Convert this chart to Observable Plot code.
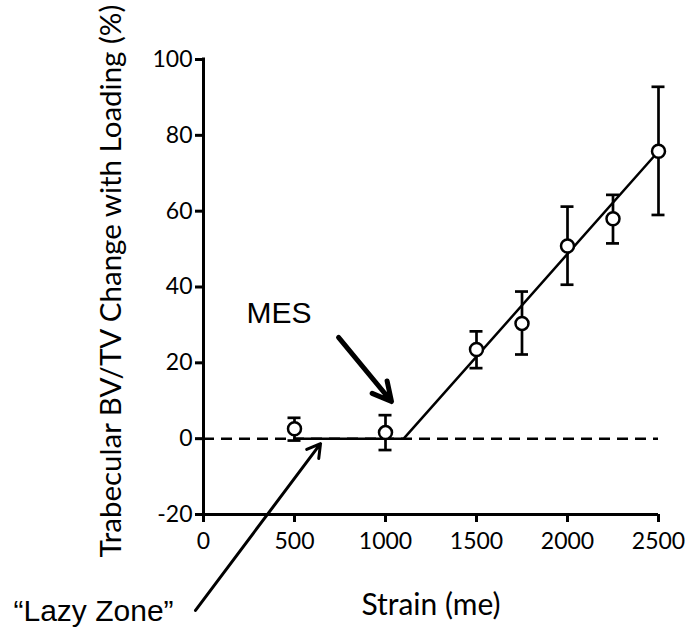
<!DOCTYPE html>
<html><head><meta charset="utf-8">
<script src="https://cdn.jsdelivr.net/npm/d3@7"></script>
<script src="https://cdn.jsdelivr.net/npm/@observablehq/plot@0.6"></script>
<style>body{margin:0;background:#fff}</style>
</head><body><div id="chart"></div>
<script>
// Data (strain in microstrain, % change in trabecular BV/TV)
const strain = [500, 1000, 1500, 1750, 2000, 2250, 2500];
const meanChange = [2.6, 1.6, 23.5, 30.4, 50.8, 58.0, 75.8];
const upperErr = [5.5, 6.2, 28.3, 38.8, 61.2, 64.3, 92.8];
const lowerErr = [-0.5, -3.0, 18.6, 22.2, 40.6, 51.5, 59.0];

// Bilinear fit: lazy zone then linear increase above MES
const fitStrain = [500, 1100, 2500];
const fitChange = [0, 0, 75.8];

const xTicks = [0, 500, 1000, 1500, 2000, 2500];
const yTicks = [-20, 0, 20, 40, 60, 80, 100];

// Annotations (in data units)
const mesArrow = [{x1: 742, y1: 26.7, x2: 1033, y2: 9.8}];
const lazyArrow = [{x1: -44, y1: -45.3, x2: 643, y2: -1.3}];
const mesLabel = [{x: 236, y: 30.6, text: "MES"}];
const lazyLabel = [{x: -1044, y: -48.2, text: "\u201CLazy Zone\u201D"}];

const yTitle = "Trabecular BV/TV Change with Loading (%)";
const xTitle = "Strain (me)";

const points = strain.map((x, i) => ({x, y: meanChange[i], hi: upperErr[i], lo: lowerErr[i]}));
const fit = fitStrain.map((x, i) => ({x, y: fitChange[i]}));

const chart = Plot.plot({
  width: 686,
  height: 628,
  marginLeft: 203,
  marginRight: 28,
  marginTop: 59,
  marginBottom: 114,
  style: {fontFamily: "Lato", color: "black", background: "white", overflow: "visible"},
  x: {domain: [0, 2500]},
  y: {domain: [-20, 100]},
  marks: [
    Plot.ruleY([0], {stroke: "black", strokeWidth: 2.5, strokeDasharray: "11,7"}),
    Plot.line(fit, {x: "x", y: "y", stroke: "black", strokeWidth: 2.5}),
    Plot.ruleX(points, {x: "x", y1: "lo", y2: "hi", stroke: "black", strokeWidth: 2.7}),
    Plot.ruleY(points, {y: "hi", x1: "x", x2: "x", insetLeft: -6.5, insetRight: -6.5, stroke: "black", strokeWidth: 2.7}),
    Plot.ruleY(points, {y: "lo", x1: "x", x2: "x", insetLeft: -6.5, insetRight: -6.5, stroke: "black", strokeWidth: 2.7}),
    Plot.dot(points, {x: "x", y: "y", r: 6.5, fill: "white", stroke: "black", strokeWidth: 2.5}),
    Plot.axisX({ticks: xTicks, tickSize: 8, tickPadding: 10, fontSize: 23, stroke: "black", strokeWidth: 3, label: null, tickFormat: d => String(d)}),
    Plot.axisY({ticks: yTicks, tickSize: 8, tickPadding: 3, fontSize: 23, stroke: "black", strokeWidth: 3, label: null, tickFormat: d => String(d)}),
    Plot.ruleX([0], {stroke: "black", strokeWidth: 3, strokeLinecap: "square"}),
    Plot.ruleY([-20], {stroke: "black", strokeWidth: 3}),
    Plot.arrow(mesArrow, {x1: "x1", y1: "y1", x2: "x2", y2: "y2", stroke: "black", strokeWidth: 5, headLength: 6.3, headAngle: 55}),
    Plot.arrow(lazyArrow, {x1: "x1", y1: "y1", x2: "x2", y2: "y2", stroke: "black", strokeWidth: 3, headLength: 7.5, headAngle: 60}),
    Plot.text(mesLabel, {x: "x", y: "y", text: "text", textAnchor: "start", lineAnchor: "bottom", fontSize: 30, fontFamily: "Liberation Sans", fill: "black"}),
    Plot.text(lazyLabel, {x: "x", y: "y", text: "text", textAnchor: "start", lineAnchor: "bottom", fontSize: 30, fontFamily: "Liberation Sans", fill: "black"}),
    Plot.text([yTitle], {frameAnchor: "left", dx: -83, dy: -6, rotate: -90, textAnchor: "middle", lineAnchor: "bottom", fontSize: 29.5, fill: "black"}),
    Plot.text([xTitle], {frameAnchor: "bottom", dy: 100, textAnchor: "middle", lineAnchor: "bottom", fontSize: 30, fill: "black"})
  ]
});
document.getElementById("chart").append(chart);
</script></body></html>
